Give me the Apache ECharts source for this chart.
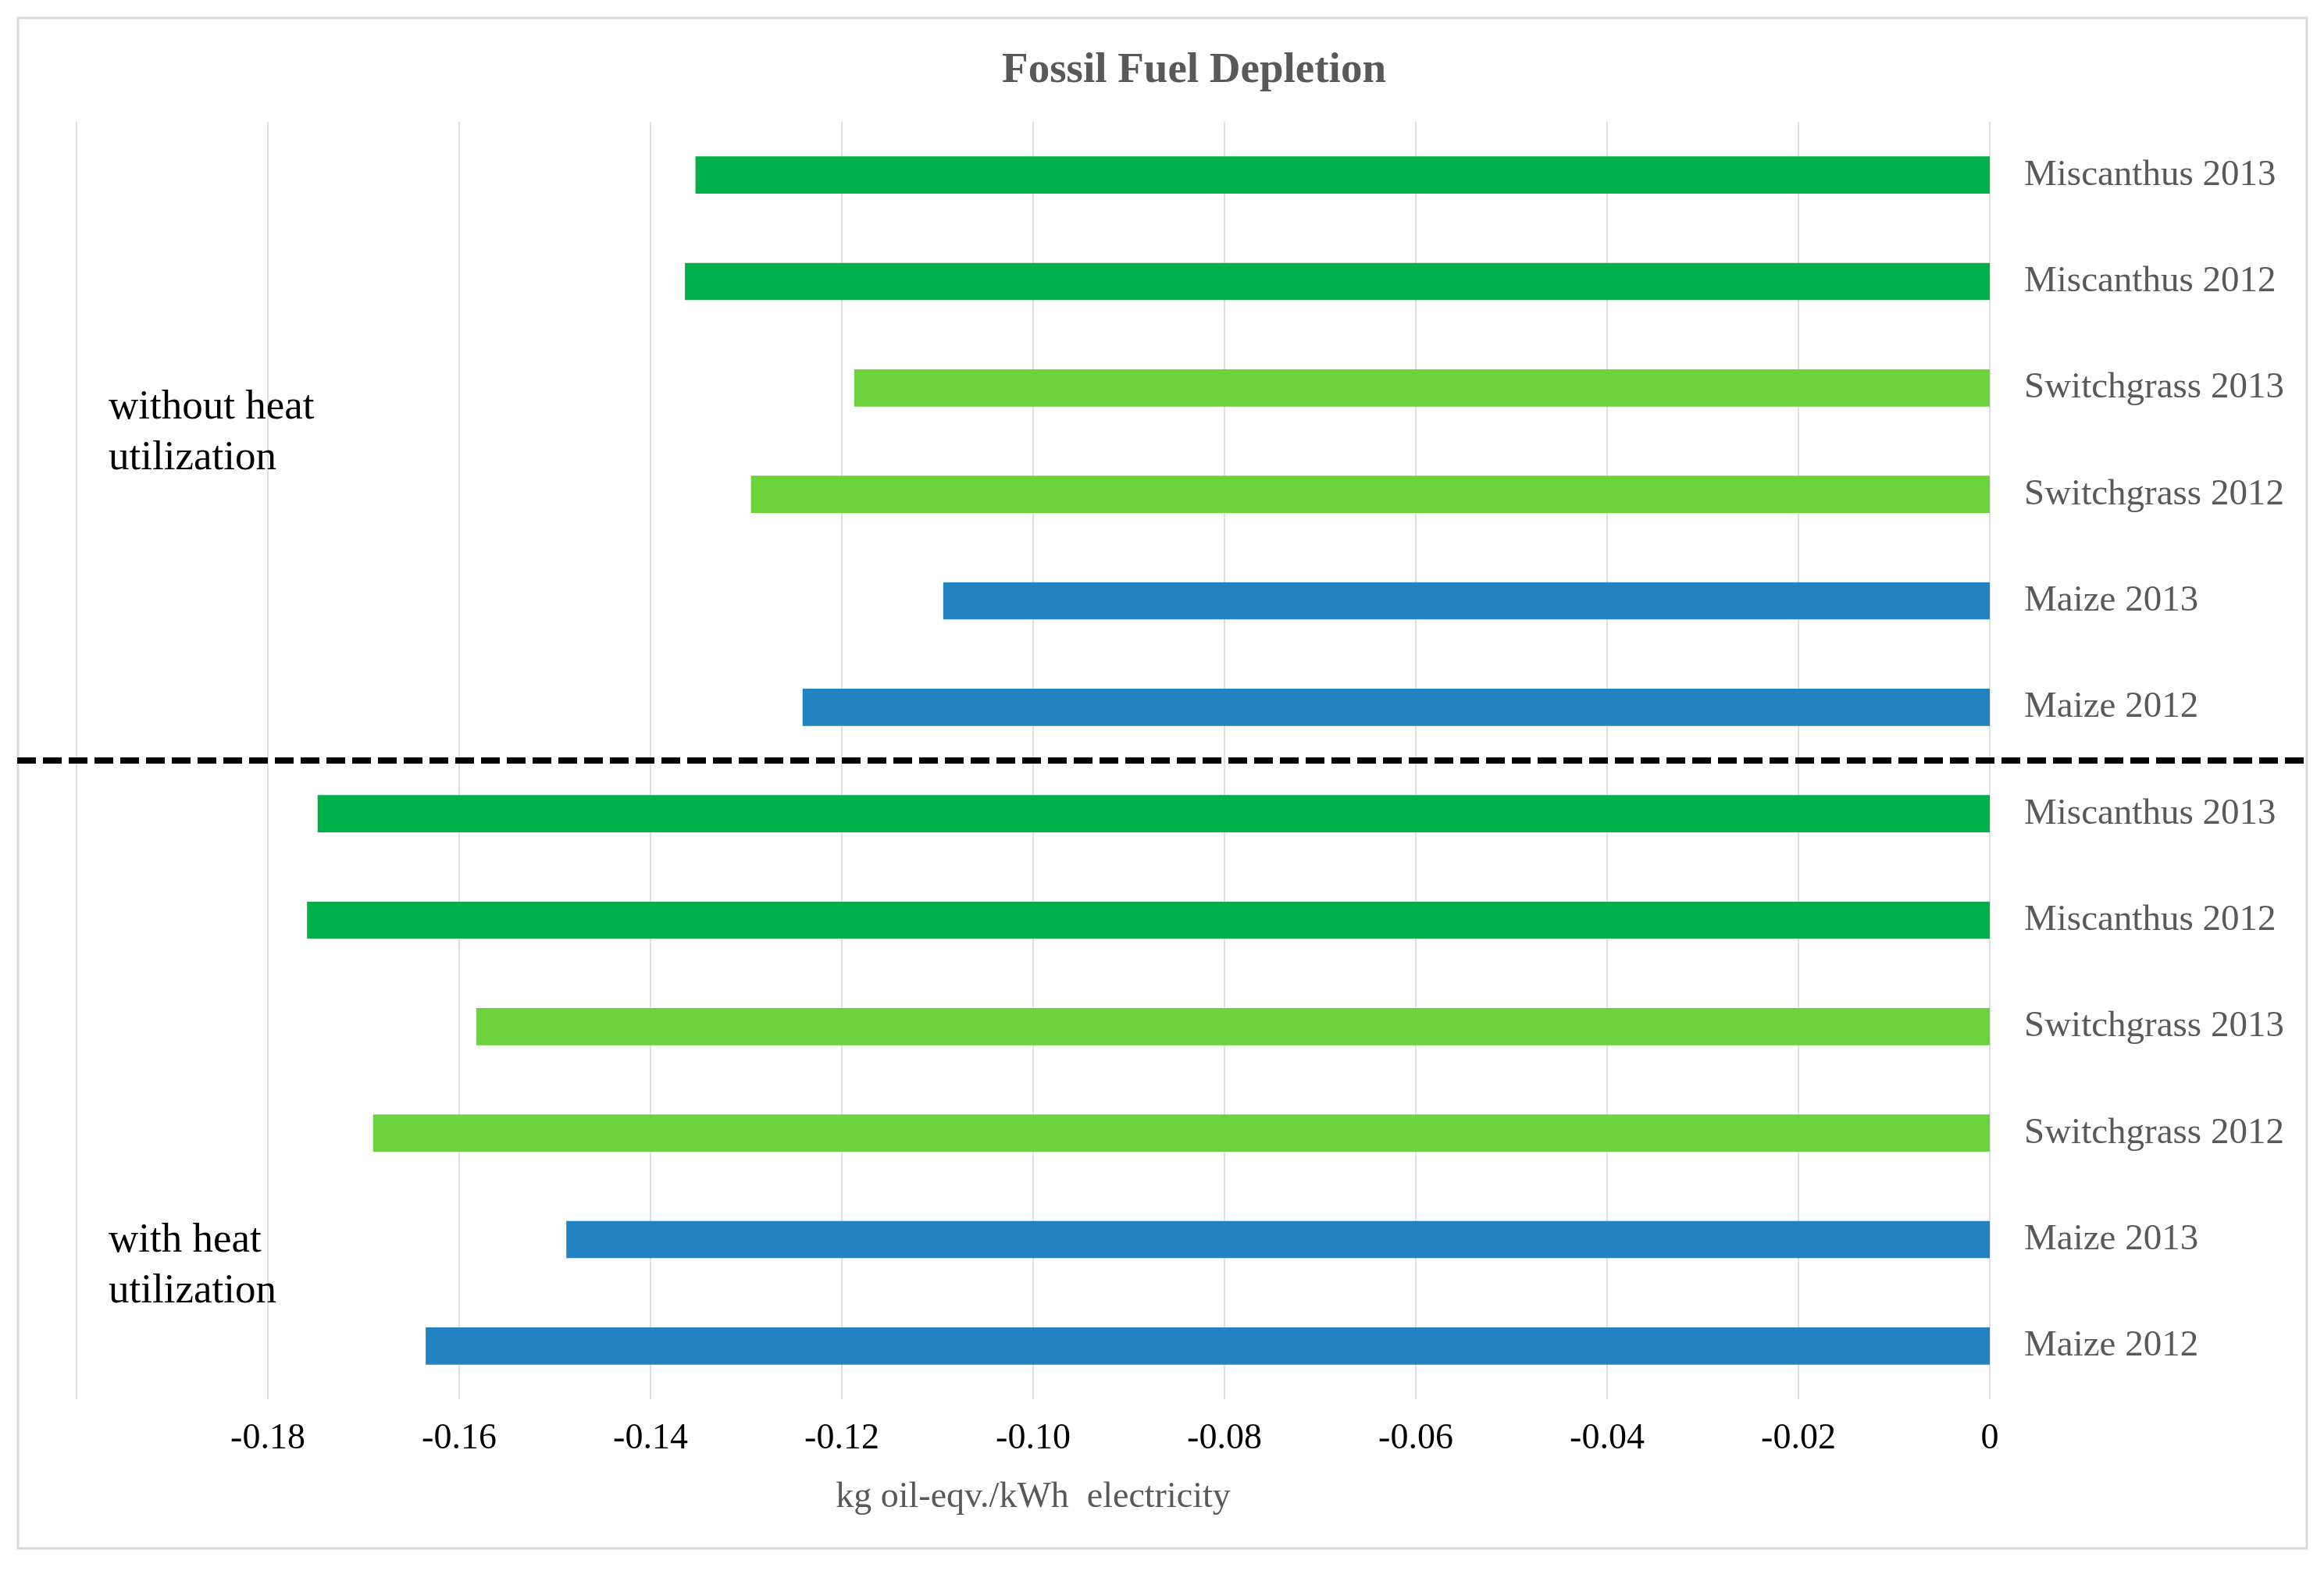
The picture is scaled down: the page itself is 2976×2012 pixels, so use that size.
<!DOCTYPE html>
<html>
<head>
<meta charset="utf-8">
<title>Fossil Fuel Depletion</title>
<script src="https://cdn.jsdelivr.net/npm/echarts@6/dist/echarts.min.js"></script>
<style>
  html, body { margin: 0; padding: 0; background: #fff; }
  #container { width: 2976px; height: 2012px; }
</style>
</head>
<body>
<div id="container"></div>
<script>
// categories, top to bottom
var categories = [
    "Miscanthus 2013", "Miscanthus 2012", "Switchgrass 2013", "Switchgrass 2012", "Maize 2013", "Maize 2012",
    "Miscanthus 2013", "Miscanthus 2012", "Switchgrass 2013", "Switchgrass 2012", "Maize 2013", "Maize 2012"
];
// kg oil-eqv./kWh electricity
var values = [
    -0.1353, -0.1364, -0.1187, -0.1295, -0.1094, -0.1241,
    -0.1748, -0.1759, -0.1582, -0.1690, -0.1488, -0.1635
];
var xTicks = [-0.20, -0.18, -0.16, -0.14, -0.12, -0.10, -0.08, -0.06, -0.04, -0.02, 0];
var groupLabels = ["without heat\nutilization", "with heat\nutilization"];

var cropColors = {
    Miscanthus: "#00B04A",
    Switchgrass: "#6CD33E",
    Maize: "#2382C1"
};

var serif = "'Liberation Serif', 'DejaVu Serif', serif";

var chart = echarts.init(document.getElementById("container"));

var option = {
    backgroundColor: "#fff",
    animation: false,
    title: {
        text: "Fossil Fuel Depletion",
        left: 1524,
        textAlign: "center",
        top: 58,
        textStyle: { fontFamily: serif, fontSize: 55, fontWeight: "bold", color: "#595959" }
    },
    grid: {
        left: 98,
        right: 428,
        top: 156,
        bottom: 220,
        containLabel: false,
        outerBoundsMode: "none"
    },
    xAxis: {
        type: "value",
        min: xTicks[0],
        max: xTicks[xTicks.length - 1],
        interval: 0.02,
        name: "kg oil-eqv./kWh  electricity",
        nameLocation: "middle",
        nameGap: 103,
        nameTextStyle: { fontFamily: serif, fontSize: 46, color: "#595959" },
        axisLine: { show: false },
        axisTick: { show: false },
        axisLabel: {
            margin: 28,
            fontFamily: serif,
            fontSize: 46,
            color: "#000",
            formatter: function (v) {
                if (Math.abs(v - xTicks[0]) < 1e-9) return "";
                if (Math.abs(v) < 1e-9) return "0";
                return v.toFixed(2);
            }
        },
        splitLine: { show: true, lineStyle: { color: "#e0e0e0", width: 2 } }
    },
    yAxis: {
        type: "category",
        data: categories,
        inverse: true,
        position: "right",
        axisLine: { show: false },
        axisTick: { show: false },
        splitLine: { show: false },
        axisLabel: {
            margin: 44,
            fontFamily: serif,
            fontSize: 47,
            color: "#595959",
            padding: [6, 0, 0, 0]
        }
    },
    series: [{
        type: "bar",
        data: values,
        barWidth: "35%",
        itemStyle: {
            color: function (p) {
                return cropColors[categories[p.dataIndex].split(" ")[0]];
            }
        }
    }]
};

chart.setOption(option);

// dashed separator between the two groups + group labels + outer frame
var y5 = chart.convertToPixel({ yAxisIndex: 0 }, 5);
var y6 = chart.convertToPixel({ yAxisIndex: 0 }, 6);
var sepY = (y5 + y6) / 2;

chart.setOption({
    graphic: [
        {
            type: "rect",
            z: -1,
            shape: { x: 23, y: 23, width: 2931, height: 1960 },
            style: { fill: null, stroke: "#d9d9d9", lineWidth: 3 }
        },
        {
            type: "line",
            z: 10,
            shape: { x1: 22, y1: sepY, x2: 2954, y2: sepY },
            style: { stroke: "#000", lineWidth: 8, lineDash: [24, 9] }
        },
        {
            type: "text",
            left: 139,
            top: 490,
            style: { text: groupLabels[0], font: "53px " + serif, fill: "#000", lineHeight: 65 }
        },
        {
            type: "text",
            left: 139,
            top: 1557,
            style: { text: groupLabels[1], font: "53px " + serif, fill: "#000", lineHeight: 65 }
        }
    ]
});
</script>
</body>
</html>
